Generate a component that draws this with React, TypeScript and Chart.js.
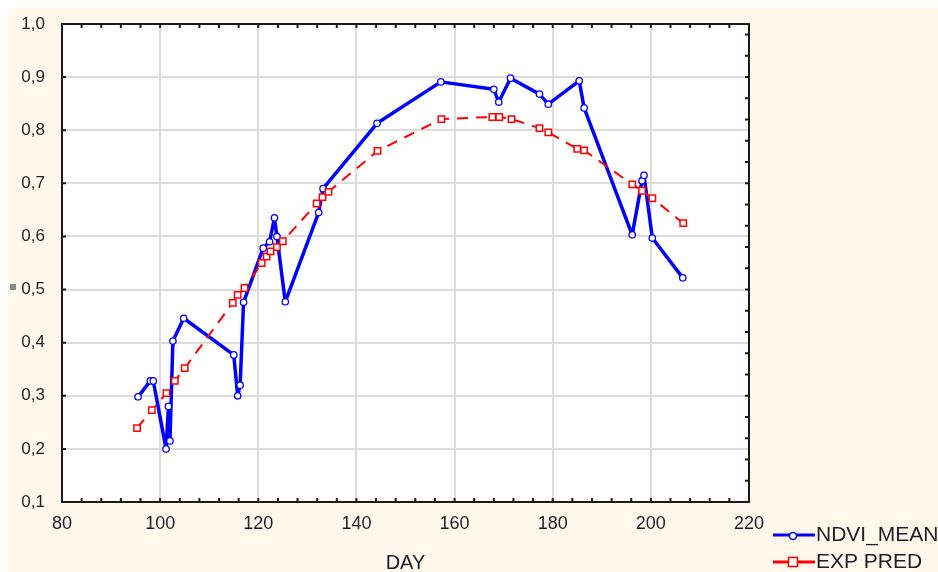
import React, { useEffect, useRef } from "react";
import { Chart, registerables } from "chart.js";
Chart.register(...registerables);

// NDVI_MEAN series (blue)
const ndviDay = [95.5, 98.0, 98.6, 101.2, 101.7, 102.0, 102.6, 104.8, 115.0, 115.8, 116.3, 117.0, 121.0, 122.3, 123.3, 123.8, 125.5, 132.3, 133.2, 144.2, 157.2, 168.0, 169.0, 171.4, 177.3, 179.1, 185.4, 186.4, 196.2, 198.2, 198.6, 200.3, 206.5];
const ndviMean = [0.298, 0.328, 0.328, 0.200, 0.280, 0.215, 0.403, 0.446, 0.377, 0.300, 0.320, 0.476, 0.578, 0.590, 0.635, 0.600, 0.477, 0.645, 0.690, 0.813, 0.891, 0.877, 0.853, 0.898, 0.868, 0.849, 0.893, 0.842, 0.603, 0.705, 0.715, 0.597, 0.522];

// EXP PRED series (red)
const predDay = [95.3, 98.3, 101.3, 103.0, 105.0, 114.8, 115.8, 117.2, 120.7, 121.7, 122.5, 123.8, 125.0, 131.9, 133.1, 134.3, 144.3, 157.3, 167.7, 169.1, 171.6, 177.3, 179.1, 185.0, 186.4, 196.2, 198.2, 200.3, 206.6];
const expPred = [0.239, 0.273, 0.305, 0.328, 0.352, 0.475, 0.490, 0.503, 0.550, 0.562, 0.572, 0.580, 0.591, 0.662, 0.674, 0.684, 0.761, 0.821, 0.825, 0.825, 0.821, 0.804, 0.796, 0.765, 0.762, 0.698, 0.686, 0.672, 0.625];

// axes
const xMin = 80, xMax = 220, xStep = 20;
const yMin = 0.1, yMax = 1.0, yStep = 0.1;
const xTitle = "DAY";
const seriesNames = ["NDVI_MEAN", "EXP PRED"];

const FONT = "'Liberation Sans', Arial, Helvetica, sans-serif";
const BLUE = "#0000ff";
const RED = "#ff0000";
const TEXT = "#1e1e2a";
const CREAM = "#fff8eb";

export default function App() {
  const ref = useRef<HTMLCanvasElement>(null);
  useEffect(() => {
    const canvas = ref.current!;
    const decor = {
      id: "decor",
      beforeDraw(chart: any) {
        const { ctx, chartArea: a } = chart;
        ctx.save();
        ctx.fillStyle = CREAM;
        ctx.fillRect(0, 0, chart.width, chart.height);
        ctx.fillStyle = "#ffffff";
        ctx.fillRect(a.left, a.top, a.right - a.left, a.bottom - a.top);
        ctx.restore();
      },
      beforeDatasetsDraw(chart: any) {
        const { ctx, chartArea: a, scales } = chart;
        const xs = scales.x, ys = scales.y;
        ctx.save();
        ctx.strokeStyle = "#1a1a1a";
        ctx.lineWidth = 2;
        ctx.strokeRect(a.left, a.top, a.right - a.left, a.bottom - a.top);
        ctx.lineWidth = 2;
        ctx.beginPath();
        for (let d = xMin + 4; d < xMax; d += 4) {
          const px = xs.getPixelForValue(d);
          ctx.moveTo(px, a.top); ctx.lineTo(px, a.top + 4);
          ctx.moveTo(px, a.bottom); ctx.lineTo(px, a.bottom - 4);
        }
        for (let k = 1; k < 9; k++) {
          const py = ys.getPixelForValue(yMin + k * yStep);
          ctx.moveTo(a.left, py); ctx.lineTo(a.left + 4, py);
        }
        for (let v = yMin + 0.04; v < yMax; v += 0.04) {
          const py = ys.getPixelForValue(v);
          ctx.moveTo(a.right, py); ctx.lineTo(a.right - 4, py);
        }
        ctx.stroke();
        ctx.restore();
      },
      afterDraw(chart: any) {
        const { ctx, chartArea: a } = chart;
        ctx.save();
        // axis title
        ctx.fillStyle = TEXT;
        ctx.font = `20px ${FONT}`;
        ctx.textAlign = "center";
        ctx.textBaseline = "middle";
        ctx.fillText(xTitle, (a.left + a.right) / 2, 555);
        // small grey mark
        ctx.fillStyle = "#8a8a8a";
        ctx.fillRect(2, 276, 6, 6);
        // legend
        const lx0 = 765, lx1 = 807, tx = 808;
        const rows = [
          { y: 527, color: BLUE, name: seriesNames[0], shape: "circle" },
          { y: 554, color: RED, name: seriesNames[1], shape: "rect" },
        ];
        for (const r of rows) {
          ctx.strokeStyle = r.color;
          ctx.lineWidth = 3;
          ctx.beginPath();
          ctx.moveTo(lx0, r.y); ctx.lineTo(lx1, r.y);
          ctx.stroke();
          ctx.lineWidth = 1.5;
          ctx.fillStyle = "#fff";
          const cx = 785;
          if (r.shape === "circle") {
            ctx.beginPath();
            ctx.arc(cx, r.y + 1, 3.5, 0, Math.PI * 2);
            ctx.fill(); ctx.stroke();
          } else {
            ctx.fillRect(cx - 4.5, r.y - 4.5, 9, 9);
            ctx.strokeRect(cx - 4.5, r.y - 4.5, 9, 9);
          }
          ctx.fillStyle = TEXT;
          ctx.font = `21px ${FONT}`;
          ctx.textAlign = "left";
          ctx.textBaseline = "middle";
          ctx.fillText(r.name, tx, r.y);
        }
        ctx.restore();
      },
    };

    const chart = new Chart(canvas, {
      type: "line",
      data: {
        datasets: [
          {
            label: seriesNames[1],
            data: predDay.map((d, i) => ({ x: d, y: expPred[i] })),
            borderColor: RED,
            borderWidth: 2,
            borderDash: [11, 8],
            pointStyle: "rect",
            pointRadius: 4.5,
            pointBorderWidth: 1.5,
            pointBackgroundColor: "#ffffff",
            pointBorderColor: RED,
            tension: 0,
            order: 0,
          },
          {
            label: seriesNames[0],
            data: ndviDay.map((d, i) => ({ x: d, y: ndviMean[i] })),
            borderColor: BLUE,
            borderWidth: 3.5,
            borderJoinStyle: "round",
            pointStyle: "circle",
            pointRadius: 3.2,
            pointBorderWidth: 1.3,
            pointBackgroundColor: "#ffffff",
            pointBorderColor: BLUE,
            tension: 0,
            order: 1,
          },
        ],
      },
      options: {
        animation: false,
        responsive: false,
        devicePixelRatio: 1,
        layout: { padding: { left: 0, top: 16, right: 189, bottom: 0 } },
        plugins: { legend: { display: false }, tooltip: { enabled: false } },
        scales: {
          x: {
            type: "linear",
            min: xMin,
            max: xMax,
            border: { display: false },
            grid: { color: "#dcdcdc", lineWidth: 2, drawTicks: false },
            ticks: {
              stepSize: xStep,
              padding: 11,
              color: TEXT,
              font: { family: FONT, size: 18 },
            },
            afterFit(s: any) { s.height = 70; },
          },
          y: {
            type: "linear",
            min: yMin,
            max: yMax,
            border: { display: false },
            grid: { color: "#dcdcdc", lineWidth: 2, drawTicks: true, tickLength: 12, tickColor: "rgba(0,0,0,0)" },
            ticks: {
              stepSize: yStep,
              padding: 5,
              color: TEXT,
              font: { family: FONT, size: 17 },
              callback: (v: any) => Number(v).toFixed(1).replace(".", ","),
            },
            afterFit(s: any) { s.width = 54; },
          },
        },
      },
      plugins: [decor],
    });
    return () => chart.destroy();
  }, []);

  return (
    <div style={{ position: "fixed", left: 8, top: 8, width: 930, height: 564 }}>
      <canvas ref={ref} width={930} height={564} style={{ display: "block" }} />
    </div>
  );
}
